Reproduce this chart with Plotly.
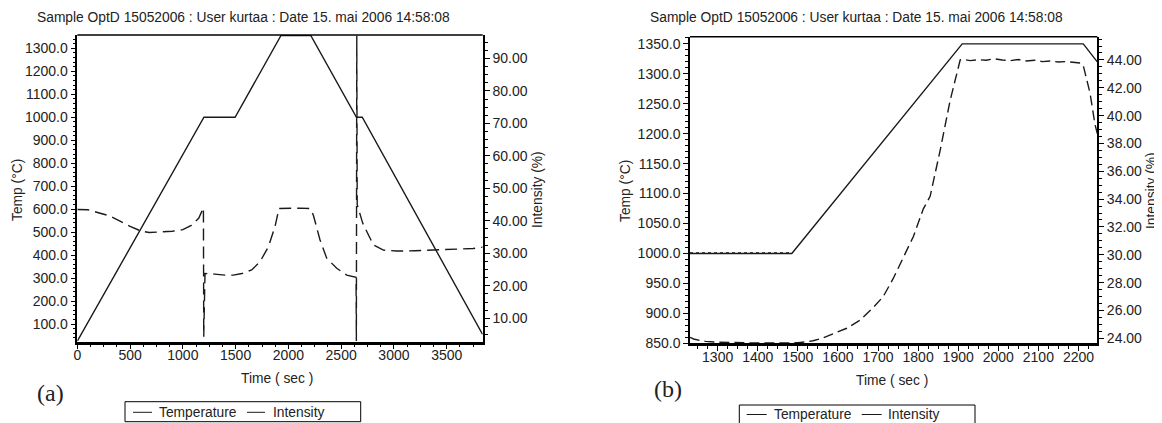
import plotly.graph_objects as go

# The page body adds an 8 px margin, so the figure is drawn 8 px smaller and
# all reference pixel positions are shifted by that offset.
OFF = 8
W, H = 1162 - OFF, 423 - OFF
FONT = "Liberation Sans, Arial, sans-serif"
SERIF = "Liberation Serif, Times New Roman, serif"
TXT = "#222222"

title_text = "Sample OptD 15052006 : User kurtaa : Date 15. mai 2006 14:58:08"
x_title = "Time ( sec )"
y_left_title = "Temp (°C)"
y_right_title = "Intensity (%)"
legend_names = ["Temperature", "Intensity"]

# ---------------- Panel (a) data ----------------
time_a_temp = [0, 1200, 1495, 1930, 2212, 2645, 2700, 3840]
temp_a = [25, 1000, 1000, 1356, 1356, 1000, 1000, 55]

time_a_int = [0, 100, 200, 300, 400, 500, 600, 680, 800, 900, 1000, 1080, 1150, 1185, 1195,
              1198, 1210, 1300, 1400, 1478, 1560, 1652, 1731, 1810, 1873, 1911, 2000, 2100,
              2205, 2236, 2300, 2363, 2458, 2553, 2641, 2644, 2648, 2652, 2704, 2805, 2900,
              3026, 3200, 3400, 3600, 3750, 3840]
int_a = [43.5, 43.4, 42.5, 41.6, 40.0, 38.3, 36.9, 36.4, 36.6, 36.8, 37.3, 38.6, 40.8, 43.0, 44.0,
         4.3, 23.8, 23.6, 23.3, 23.3, 23.8, 24.9, 27.4, 32.0, 38.2, 43.8, 43.9, 43.9,
         43.8, 41.8, 34.1, 28.5, 25.4, 23.3, 22.6, 3.0, 97.0, 45.0, 39.3, 32.6, 31.0,
         30.7, 30.8, 31.0, 31.2, 31.5, 31.9]

# ---------------- Panel (b) data ----------------
time_b_temp = [1231, 1485, 1910, 2212, 2247]
temp_b = [1000, 1000, 1350, 1350, 1320]
time_b_set = [1231, 1485]
set_b = [1001, 1001]

time_b_int = [1231, 1240, 1255, 1270, 1300, 1350, 1400, 1450, 1500, 1522, 1538, 1560, 1588,
              1622, 1655, 1688, 1713, 1738, 1763, 1788, 1813, 1830, 1855, 1880, 1905, 1912,
              1930, 1950, 1970, 1990, 2010, 2030, 2050, 2070, 2090, 2110, 2130, 2150, 2170,
              2190, 2205, 2212, 2216, 2229, 2241, 2247]
int_b = [24.07, 23.95, 23.85, 23.78, 23.72, 23.68, 23.66, 23.66, 23.68, 23.75, 23.82, 24.0, 24.3,
         24.72, 25.3, 26.2, 27.0, 28.3, 29.8, 31.3, 33.3, 34.2, 37.5, 41.1, 44.0, 44.05,
         43.95, 44.02, 43.98, 44.08, 44.0, 43.95, 44.03, 43.93, 43.98, 43.88, 43.93, 43.85, 43.88,
         43.80, 43.78, 43.6, 43.15, 41.6, 39.4, 38.7]

LINE = "#1a1a1a"

fig = go.Figure()
fig.add_trace(go.Scatter(x=time_a_temp, y=temp_a, mode="lines", name=legend_names[0],
                         line=dict(color=LINE, width=1.4), xaxis="x", yaxis="y"))
fig.add_trace(go.Scatter(x=time_a_int, y=int_a, mode="lines", name=legend_names[1],
                         line=dict(color=LINE, width=1.4, dash="12px,6px"), xaxis="x", yaxis="y2"))
fig.add_trace(go.Scatter(x=time_b_temp, y=temp_b, mode="lines", name=legend_names[0],
                         line=dict(color=LINE, width=1.4), xaxis="x2", yaxis="y3"))
fig.add_trace(go.Scatter(x=time_b_set, y=set_b, mode="lines", name="Setpoint",
                         line=dict(color=LINE, width=1.4, dash="dot"), xaxis="x2", yaxis="y3"))
fig.add_trace(go.Scatter(x=time_b_int, y=int_b, mode="lines", name=legend_names[1],
                         line=dict(color=LINE, width=1.4, dash="10px,5px"), xaxis="x2", yaxis="y4"))


def px(x):
    return (x - OFF) / W


def py(y):
    return 1 - (y - OFF) / H


def ax(**kw):
    d = dict(showline=True, linecolor="black", linewidth=1.5, ticks="outside", tickcolor="black",
             ticklen=5, tickwidth=1, showgrid=False, zeroline=False, automargin=False,
             fixedrange=True, tickfont=dict(family=FONT, size=14, color=TXT))
    d.update(kw)
    return d


def minor(dt):
    return dict(ticks="outside", ticklen=3, tickcolor="black", tickwidth=1, dtick=dt, showgrid=False)


fig.update_layout(
    width=W, height=H, margin=dict(l=0, r=0, t=0, b=0, pad=0),
    paper_bgcolor="white", plot_bgcolor="white", showlegend=False,
    xaxis=ax(domain=[px(77.3), px(482.7)], anchor="y", range=[0, 3841], tick0=0, dtick=500,
             linewidth=2.5, minor=minor(125), ticklabelstandoff=-6),
    yaxis=ax(domain=[py(341.7), py(35)], anchor="x", range=[23, 1358], tick0=0, dtick=100,
             tickformat=".1f", minor=minor(20)),
    yaxis2=ax(domain=[py(341.7), py(35)], anchor="x", overlaying="y", side="right",
              range=[2.8, 97.2], tick0=0, dtick=10, tickformat=".2f", linewidth=2, minor=minor(2.5)),
    xaxis2=ax(domain=[px(690), px(1097.3)], anchor="y3", range=[1231, 2247], tick0=0, dtick=100,
              linewidth=2.5, minor=minor(25), ticklabelstandoff=-6),
    yaxis3=ax(domain=[py(343.3), py(36.7)], anchor="x2", range=[850, 1362], tick0=0, dtick=50,
              tickformat=".1f", minor=minor(10)),
    yaxis4=ax(domain=[py(343.3), py(36.7)], anchor="x2", overlaying="y3", side="right",
              range=[23.64, 45.67], tick0=0, dtick=2, tickformat=".2f", minor=minor(0.5)),
)

shapes = [
    # top borders of plot areas
    dict(type="line", xref="x domain", yref="y domain", x0=0, x1=1, y0=1, y1=1,
         line=dict(color="black", width=1.5)),
    dict(type="line", xref="x2 domain", yref="y3 domain", x0=0, x1=1, y0=1, y1=1,
         line=dict(color="black", width=1.5)),
    # legend boxes
    dict(type="rect", xref="paper", yref="paper", x0=px(125), x1=px(360.7), y0=py(421.7), y1=py(401.7),
         line=dict(color="black", width=1), fillcolor="rgba(0,0,0,0)"),
    dict(type="rect", xref="paper", yref="paper", x0=px(739.3), x1=px(975), y0=py(430), y1=py(405),
         line=dict(color="black", width=1), fillcolor="rgba(0,0,0,0)"),
    # legend line samples
    dict(type="line", xref="paper", yref="paper", x0=px(133), x1=px(152), y0=py(412.3), y1=py(412.3),
         line=dict(color=LINE, width=1)),
    dict(type="line", xref="paper", yref="paper", x0=px(247), x1=px(265), y0=py(412.3), y1=py(412.3),
         line=dict(color=LINE, width=1)),
    dict(type="line", xref="paper", yref="paper", x0=px(746.7), x1=px(766.7), y0=py(414.5), y1=py(414.5),
         line=dict(color=LINE, width=1)),
    dict(type="line", xref="paper", yref="paper", x0=px(861.7), x1=px(881.7), y0=py(414.5), y1=py(414.5),
         line=dict(color=LINE, width=1)),
]
fig.update_layout(shapes=shapes)


def note(text, x, y, size=13.8, family=FONT, angle=0, xanchor="center"):
    return dict(text=text, x=px(x), y=py(y), xref="paper", yref="paper", showarrow=False,
                xanchor=xanchor, yanchor="middle", textangle=angle,
                font=dict(family=family, size=size, color=TXT))


annotations = [
    note(title_text, 243, 17),
    note(title_text, 856, 17),
    note(x_title, 277, 378),
    note(x_title, 892, 380),
    note(y_left_title, 17, 190, angle=-90),
    note(y_left_title, 625, 191, angle=-90),
    note(y_right_title, 537, 190, angle=-90),
    note(y_right_title, 1151, 191, angle=-90),
    note("(a)", 50, 393, size=24, family=SERIF),
    note("(b)", 668, 389, size=24, family=SERIF),
    note(legend_names[0], 157, 412, xanchor="left"),
    note(legend_names[1], 271, 412, xanchor="left"),
    note(legend_names[0], 772, 414.5, xanchor="left"),
    note(legend_names[1], 886, 414.5, xanchor="left"),
]
fig.update_layout(annotations=annotations)

fig.write_html("out.html")
